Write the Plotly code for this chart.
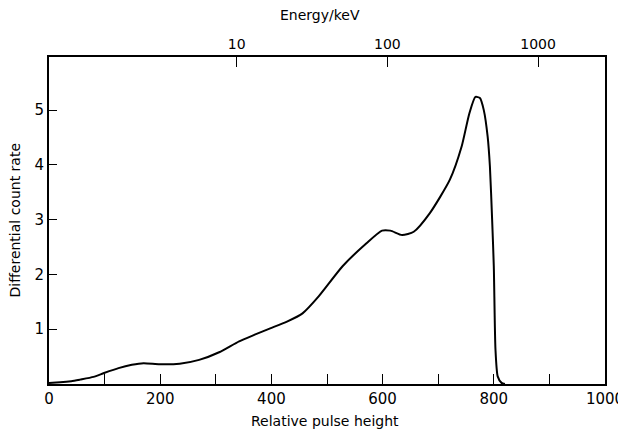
import plotly.graph_objects as go

# Curve
pulse_height = [0, 20, 40, 56, 80, 99, 125, 149, 170, 199, 235, 270, 306, 342, 370, 399,
                428, 456, 485, 528, 571, 599, 614, 635, 656, 685, 721, 742, 756, 767,
                775, 782, 789, 793, 797, 800, 803, 807, 814, 820]
count_rate = [0.02, 0.03, 0.05, 0.08, 0.13, 0.2, 0.29, 0.35, 0.38, 0.36, 0.37, 0.44, 0.58,
              0.78, 0.9, 1.02, 1.14, 1.29, 1.6, 2.15, 2.57, 2.8, 2.8, 2.72, 2.78, 3.12,
              3.73, 4.33, 4.94, 5.24, 5.22, 5.0, 4.51, 3.97, 3.0, 2.15, 0.63, 0.14, 0.02, 0.0]

x_ticks = [0, 100, 200, 300, 400, 500, 600, 700, 800, 900, 1000]
x_labels = ["0", "", "200", "", "400", "", "600", "", "800", "", "1000"]
y_ticks = [1, 2, 3, 4, 5]
energy_ticks = [10, 100, 1000]
energy_labels = ["10", "100", "1000"]
energy_range_log = [-0.245, 3.444]

font_family = "DejaVu Sans"

fig = go.Figure()
fig.add_trace(go.Scatter(x=pulse_height, y=count_rate, mode="lines",
                         line=dict(color="black", width=2, shape="spline", smoothing=0.6),
                         showlegend=False, hoverinfo="skip"))
# invisible trace to activate the top axis
fig.add_trace(go.Scatter(x=[10], y=[0], xaxis="x2", mode="markers",
                         marker=dict(opacity=0), showlegend=False, hoverinfo="skip"))

fig.update_layout(
    width=618, height=430,
    margin=dict(l=41, r=21, t=49, b=54),
    plot_bgcolor="white", paper_bgcolor="white",
    font=dict(family=font_family, color="black", size=14),
    xaxis=dict(range=[0, 1000], tickvals=x_ticks, ticktext=x_labels,
               ticks="inside", ticklen=10, tickwidth=1.3, tickcolor="black",
               showline=True, linecolor="black", linewidth=2,
               showgrid=False, zeroline=False, automargin=False,
               tickfont=dict(size=15)),
    xaxis2=dict(type="log", range=energy_range_log, overlaying="x", side="top",
                tickvals=energy_ticks, ticktext=energy_labels,
                ticks="inside", ticklen=10, tickwidth=1.3, tickcolor="black",
                showline=True, linecolor="black", linewidth=2,
                showgrid=False, zeroline=False, automargin=False,
                tickfont=dict(size=14)),
    yaxis=dict(range=[0, 5.97], tickvals=y_ticks,
               ticks="inside", ticklen=8, tickwidth=1.3, tickcolor="black",
               showline=True, mirror=True, linecolor="black", linewidth=2,
               showgrid=False, zeroline=False, automargin=False,
               tickfont=dict(size=15)),
    annotations=[
        dict(text="Energy/keV", xref="paper", yref="paper", x=0.487, y=1,
             xanchor="center", yanchor="middle", yshift=42, showarrow=False,
             font=dict(size=14)),
        dict(text="Relative pulse height", xref="paper", yref="paper", x=0.496, y=0,
             xanchor="center", yanchor="middle", yshift=-37, showarrow=False,
             font=dict(size=14)),
        dict(text="Differential count rate", xref="paper", yref="paper", x=0, y=0.5,
             xanchor="center", yanchor="middle", xshift=-35, textangle=-90,
             showarrow=False, font=dict(size=14)),
    ],
)

fig.write_html("out.html")
